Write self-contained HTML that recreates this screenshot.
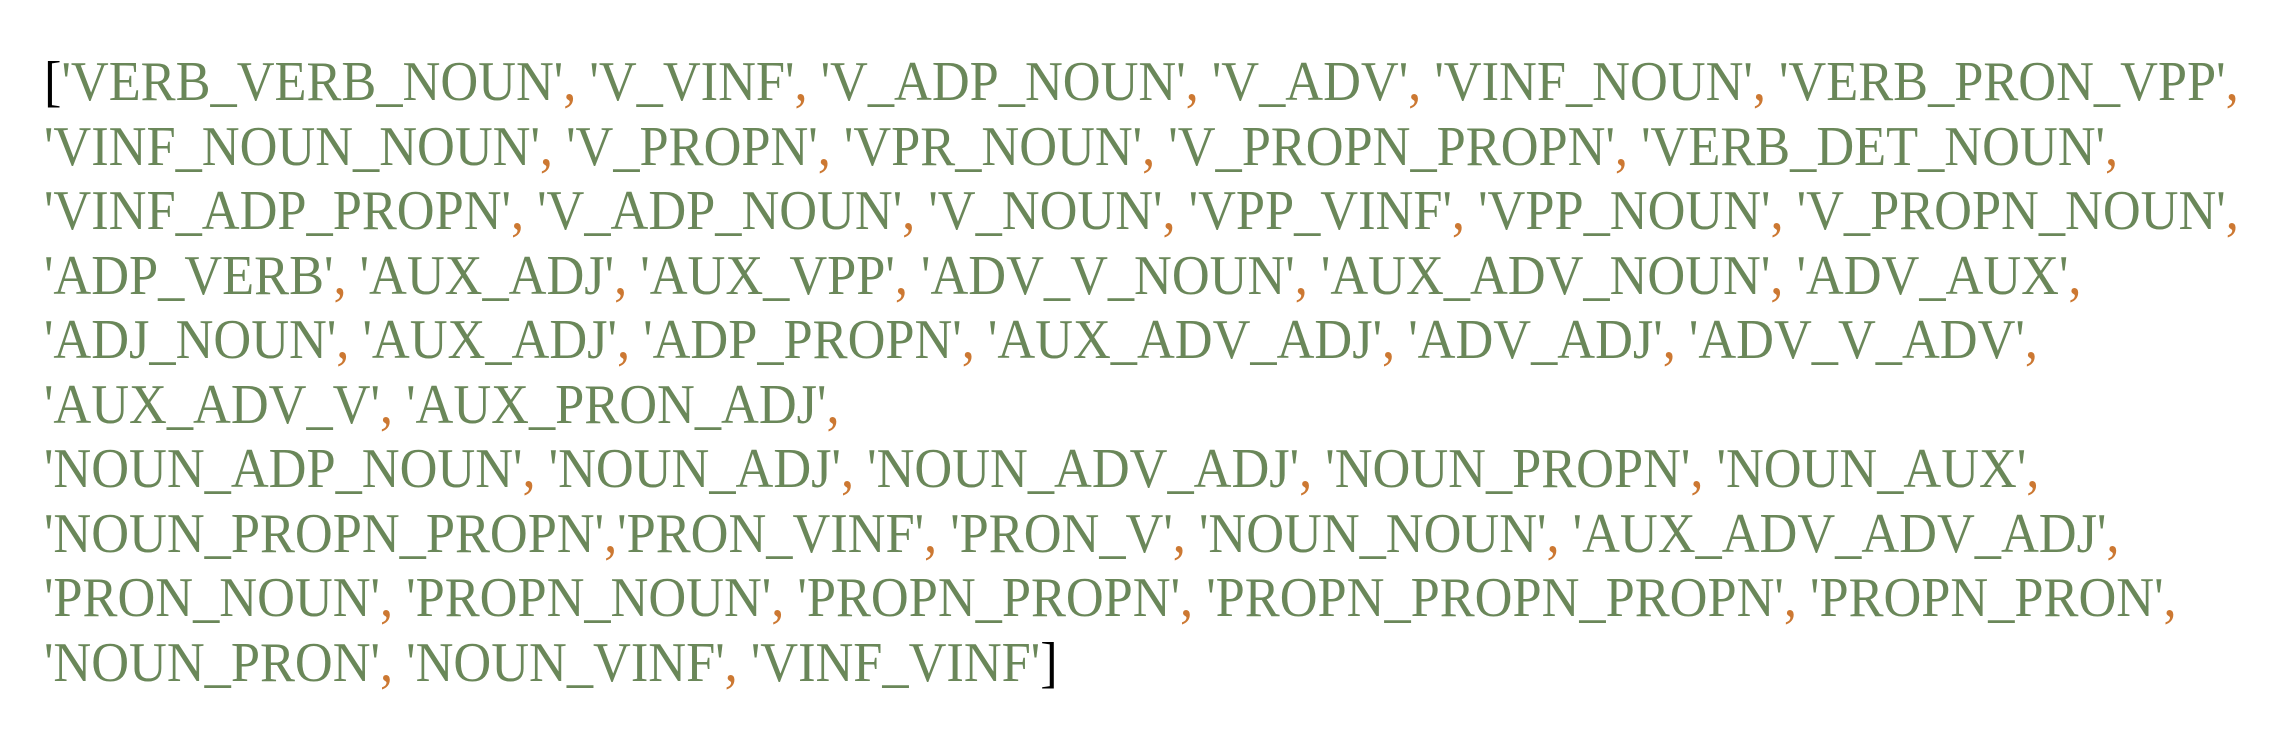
<!DOCTYPE html>
<html><head><meta charset="utf-8"><style>
html,body{margin:0;padding:0;background:#fff;width:2292px;height:744px;overflow:hidden}
#t{position:absolute;left:44px;top:50px;font-family:"Liberation Serif",serif;font-size:56px;line-height:64.5px;color:#6a8759;white-space:nowrap;transform:scaleX(0.935);transform-origin:0 0}
b{font-weight:normal;color:#cc7832}
i{font-style:normal;color:#000}
</style></head><body><div id="t"><i>[</i>'VERB_VERB_NOUN'<b>,</b> 'V_VINF'<b>,</b> 'V_ADP_NOUN'<b>,</b> 'V_ADV'<b>,</b> 'VINF_NOUN'<b>,</b> 'VERB_PRON_VPP'<b>,</b><br>'VINF_NOUN_NOUN'<b>,</b> 'V_PROPN'<b>,</b> 'VPR_NOUN'<b>,</b> 'V_PROPN_PROPN'<b>,</b> 'VERB_DET_NOUN'<b>,</b><br>'VINF_ADP_PROPN'<b>,</b> 'V_ADP_NOUN'<b>,</b> 'V_NOUN'<b>,</b> 'VPP_VINF'<b>,</b> 'VPP_NOUN'<b>,</b> 'V_PROPN_NOUN'<b>,</b><br>'ADP_VERB'<b>,</b> 'AUX_ADJ'<b>,</b> 'AUX_VPP'<b>,</b> 'ADV_V_NOUN'<b>,</b> 'AUX_ADV_NOUN'<b>,</b> 'ADV_AUX'<b>,</b><br>'ADJ_NOUN'<b>,</b> 'AUX_ADJ'<b>,</b> 'ADP_PROPN'<b>,</b> 'AUX_ADV_ADJ'<b>,</b> 'ADV_ADJ'<b>,</b> 'ADV_V_ADV'<b>,</b><br>'AUX_ADV_V'<b>,</b> 'AUX_PRON_ADJ'<b>,</b><br>'NOUN_ADP_NOUN'<b>,</b> 'NOUN_ADJ'<b>,</b> 'NOUN_ADV_ADJ'<b>,</b> 'NOUN_PROPN'<b>,</b> 'NOUN_AUX'<b>,</b><br>'NOUN_PROPN_PROPN'<b>,</b>'PRON_VINF'<b>,</b> 'PRON_V'<b>,</b> 'NOUN_NOUN'<b>,</b> 'AUX_ADV_ADV_ADJ'<b>,</b><br>'PRON_NOUN'<b>,</b> 'PROPN_NOUN'<b>,</b> 'PROPN_PROPN'<b>,</b> 'PROPN_PROPN_PROPN'<b>,</b> 'PROPN_PRON'<b>,</b><br>'NOUN_PRON'<b>,</b> 'NOUN_VINF'<b>,</b> 'VINF_VINF'<i>]</i></div></body></html>
